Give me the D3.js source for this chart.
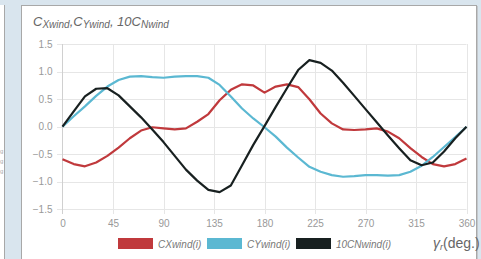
<!DOCTYPE html>
<html>
<head>
<meta charset="utf-8">
<script src="https://cdn.jsdelivr.net/npm/d3@7"></script>
<style>
  body { margin: 0; background: #d9e5ee; }
  svg { display: block; }
</style>
</head>
<body>
<script>
const WIDTH = 481;
const HEIGHT = 259;

// angle step of 10 degrees, 0..360
const angles = d3.range(0, 361, 10);
const xTicks = [0, 45, 90, 135, 180, 225, 270, 315, 360];
const yTicks = [1.5, 1.0, 0.5, 0.0, -0.5, -1.0, -1.5];

const cxWind = [-0.59, -0.68, -0.72, -0.65, -0.53, -0.38, -0.21, -0.07, -0.01, -0.03,
  -0.05, -0.03, 0.09, 0.23, 0.48, 0.67, 0.77, 0.75, 0.62, 0.73,
  0.77, 0.72, 0.50, 0.24, 0.06, -0.05, -0.06, -0.05, -0.03, -0.09,
  -0.21, -0.39, -0.55, -0.68, -0.72, -0.68, -0.58];
const cyWind = [0, 0.19, 0.37, 0.56, 0.73, 0.85, 0.91, 0.92, 0.90, 0.89,
  0.91, 0.92, 0.92, 0.89, 0.76, 0.55, 0.33, 0.15, -0.01, -0.18,
  -0.38, -0.56, -0.73, -0.82, -0.88, -0.91, -0.90, -0.88, -0.88, -0.89,
  -0.88, -0.82, -0.71, -0.55, -0.37, -0.19, 0];
const cnWind10 = [0, 0.28, 0.55, 0.69, 0.70, 0.57, 0.37, 0.17, -0.05, -0.28,
  -0.53, -0.78, -0.98, -1.15, -1.19, -1.07, -0.70, -0.33, 0.01, 0.36,
  0.70, 1.03, 1.21, 1.16, 1.02, 0.80, 0.56, 0.32, 0.08, -0.16,
  -0.39, -0.61, -0.70, -0.65, -0.45, -0.21, 0];

const series = [
  {name: 'CXwind(i)', values: cxWind, color: '#c0393c'},
  {name: 'CYwind(i)', values: cyWind, color: '#5bb8d2'},
  {name: '10CNwind(i)', values: cnWind10, color: '#182020'},
];

const svg = d3.select('body')
  .append('svg')
  .attr('width', WIDTH)
  .attr('height', HEIGHT);

// page background and panels
svg.append('rect').attr('width', WIDTH).attr('height', HEIGHT).attr('fill', '#d9e5ee');
svg.append('rect').attr('x', 0).attr('y', 5).attr('width', 4).attr('height', HEIGHT).attr('fill', '#fff');
svg.append('line').attr('x1', 4.5).attr('x2', 4.5).attr('y1', 5).attr('y2', HEIGHT)
  .attr('stroke', '#a8a8a8');
svg.append('rect').attr('x', 21.5).attr('y', 5.5).attr('width', 455).attr('height', HEIGHT)
  .attr('fill', '#fff').attr('stroke', '#a8a8a8');
svg.append('line').attr('x1', 477.5).attr('x2', 477.5).attr('y1', 6).attr('y2', HEIGHT)
  .attr('stroke', '#c4c8cc');

// stray glyphs of the neighbouring panel
[153, 163, 173].forEach(y => {
  svg.append('text').attr('x', 0).attr('y', y)
    .attr('font-family', 'Arial, "Liberation Sans", sans-serif').attr('font-size', 6)
    .attr('fill', '#aaa').text('g');
});

const x = d3.scaleLinear().domain([0, 360]).range([62.5, 466.5]);
const y = d3.scaleLinear().domain([-1.5, 1.5]).range([209.2, 44.2]);

const font = '"Liberation Sans", Arial, sans-serif';

// grid
const grid = svg.append('g');
grid.selectAll('line.h').data(yTicks).enter().append('line')
  .attr('x1', 57).attr('x2', 466.5)
  .attr('y1', d => Math.round(y(d)) + 0.5).attr('y2', d => Math.round(y(d)) + 0.5)
  .attr('stroke', '#e6e6e6');
grid.selectAll('line.v').data(xTicks.slice(1)).enter().append('line')
  .attr('y1', 44).attr('y2', 214)
  .attr('x1', d => Math.round(x(d)) + 0.5).attr('x2', d => Math.round(x(d)) + 0.5)
  .attr('stroke', '#e6e6e6');
svg.append('line').attr('x1', 62.5).attr('x2', 62.5).attr('y1', 44).attr('y2', 214)
  .attr('stroke', '#d0d0d0');

// axes labels
const yAxis = d3.axisLeft(y).tickValues(yTicks).tickFormat(d3.format('.1f')).tickSize(0).tickPadding(10);
svg.append('g').attr('transform', 'translate(62.5,0)').call(yAxis)
  .call(g => g.select('.domain').remove())
  .selectAll('text').attr('font-family', font).attr('font-size', 10).attr('fill', '#999');

const xAxis = d3.axisBottom(x).tickValues(xTicks).tickSize(0).tickPadding(6);
svg.append('g').attr('transform', 'translate(0,214)').call(xAxis)
  .call(g => g.select('.domain').remove())
  .selectAll('text').attr('font-family', font).attr('font-size', 10).attr('fill', '#999');

// lines
const line = d3.line().x((d, i) => x(angles[i])).y(d => y(d));
svg.selectAll('path.series').data(series).enter().append('path')
  .attr('class', 'series')
  .attr('d', d => line(d.values))
  .attr('fill', 'none')
  .attr('stroke', d => d.color)
  .attr('stroke-width', 2.2)
  .attr('stroke-linejoin', 'round');

// title
const title = svg.append('text').attr('x', 33).attr('y', 26)
  .attr('font-family', font).attr('font-style', 'italic').attr('fill', '#666');
title.append('tspan').attr('font-size', 13).text('C');
title.append('tspan').attr('font-size', 10).attr('dy', 2).text('Xwind');
title.append('tspan').attr('font-size', 13).attr('dy', -2).text(',C');
title.append('tspan').attr('font-size', 10).attr('dy', 2).text('Ywind');
title.append('tspan').attr('font-size', 13).attr('dy', -2).text(', 10C');
title.append('tspan').attr('font-size', 10).attr('dy', 2).text('Nwind');

// legend
const legendX = [118, 207, 296];
const legend = svg.selectAll('g.legend').data(series).enter().append('g')
  .attr('transform', (d, i) => `translate(${legendX[i]},238)`);
legend.append('rect').attr('width', 35).attr('height', 11).attr('fill', d => d.color);
legend.append('text').attr('x', 40).attr('y', 9.5)
  .attr('font-family', font).attr('font-style', 'italic').attr('font-size', 10)
  .attr('fill', '#777').text(d => d.name);

const xLabel = svg.append('text').attr('x', 433).attr('y', 248)
  .attr('font-family', font).attr('font-size', 14).attr('fill', '#666');
xLabel.append('tspan').attr('font-style', 'italic').text('γ');
xLabel.append('tspan').attr('font-size', 9).attr('dy', 2).attr('font-style', 'italic').text('r');
xLabel.append('tspan').attr('dy', -2).text('(deg.)');
</script>
</body>
</html>
